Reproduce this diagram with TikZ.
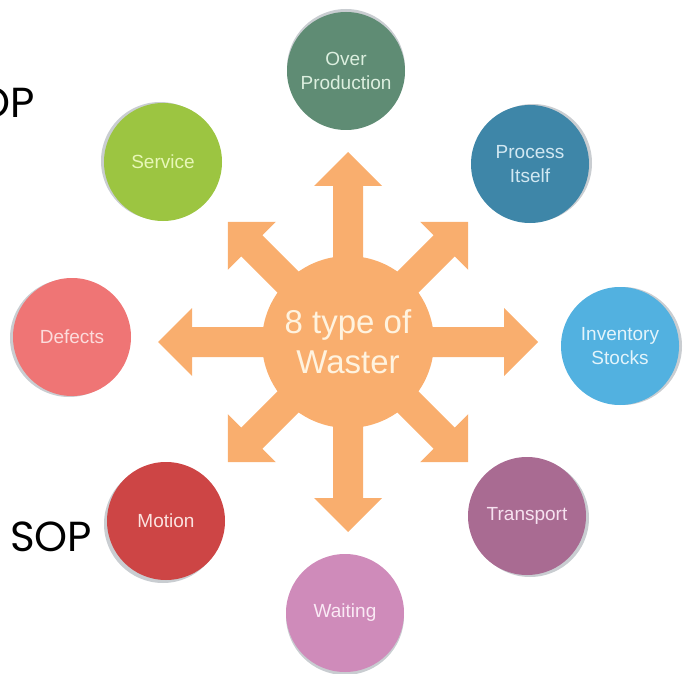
\documentclass[tikz,border=0pt]{standalone}
\usepackage{fontspec}
\setmainfont{Liberation Sans}
\newfontfamily\sopfont{Poppins}
\usetikzlibrary{shadows}

\definecolor{wasteorange}{HTML}{F9AE6E}
\definecolor{hubtext}{HTML}{FFF3DF}
\definecolor{rimgray}{HTML}{C9CDD1}
\definecolor{overgreen}{HTML}{5F8C74}
\definecolor{overtext}{HTML}{DCEFDF}
\definecolor{processblue}{HTML}{3E86A8}
\definecolor{processtext}{HTML}{D2E8F2}
\definecolor{inventoryblue}{HTML}{52B1E0}
\definecolor{inventorytext}{HTML}{E3F4FB}
\definecolor{transportmauve}{HTML}{A96B92}
\definecolor{transporttext}{HTML}{F6E2F0}
\definecolor{waitingpink}{HTML}{CF8BBA}
\definecolor{waitingtext}{HTML}{FAEAF5}
\definecolor{motionred}{HTML}{CD4545}
\definecolor{motiontext}{HTML}{FBE3E0}
\definecolor{defectsred}{HTML}{EF7575}
\definecolor{defectstext}{HTML}{FCDCDC}
\definecolor{servicegreen}{HTML}{9CC541}
\definecolor{servicetext}{HTML}{E8F7B8}

\tikzset{
  waste/.style 2 args={circle, fill=#1, text=#2, minimum size=118pt, inner sep=0pt,
    align=center, font=\fontsize{19}{24}\selectfont},
  rim/.style 2 args={drop shadow={shadow xshift=#1, shadow yshift=#2, fill=rimgray, opacity=1}},
  hub/.style={circle, fill=wasteorange, text=hubtext, minimum size=172pt, inner sep=0pt,
    align=center, font=\fontsize{33}{40}\selectfont},
  fatarrow/.style={fill=wasteorange},
  soplabel/.style={font=\sopfont\fontsize{42}{42}\selectfont, inner sep=0pt}
}

\begin{document}
\begin{tikzpicture}[x=1pt, y=-1pt]
  \useasboundingbox (0,0) rectangle (691,674);
  \clip (0,0) rectangle (691,674);

  % centre of the star
  \coordinate (c) at (348,342);

  % eight fat arrows
  \foreach \ang/\len in {0/190, 45/170, 90/190, 135/170, 180/190, 225/170, 270/190, 315/170}
    \fill[fatarrow, shift={(c)}, rotate=\ang]
      (0,-15) -- (\len-34,-15) -- (\len-34,-34) -- (\len,0)
      -- (\len-34,34) -- (\len-34,15) -- (0,15) -- cycle;

  \node[hub] (hub) at (c) {8 type of\\Waster};

  % the eight wastes
  \node[waste={overgreen}{overtext}, rim={0pt}{3pt}] (over) at (346,71) {Over\\Production};
  \node[waste={processblue}{processtext}, rim={3pt}{1pt}] (process) at (530,164) {Process\\Itself};
  \node[waste={inventoryblue}{inventorytext}, rim={3pt}{0pt}] (inventory) at (620,346) {Inventory\\Stocks};
  \node[waste={transportmauve}{transporttext}, rim={3pt}{-2pt}] (transport) at (527,516) {Transport};
  \node[waste={waitingpink}{waitingtext}, rim={0pt}{-3pt}] (waiting) at (345,613) {Waiting};
  \node[waste={motionred}{motiontext}, rim={-3pt}{-3pt}] (motion) at (166,521) {Motion};
  \node[waste={defectsred}{defectstext}, rim={-3pt}{-1pt}] (defects) at (72,337) {Defects};
  \node[waste={servicegreen}{servicetext}, rim={-3pt}{1pt}] (service) at (163,162) {Service};

  % labels cut at the left edge
  \node[soplabel, anchor=base east] (soptop) at (35,118) {SOP};
  \node[soplabel, anchor=base west] (sopbottom) at (10,551) {SOP};
\end{tikzpicture}
\end{document}
